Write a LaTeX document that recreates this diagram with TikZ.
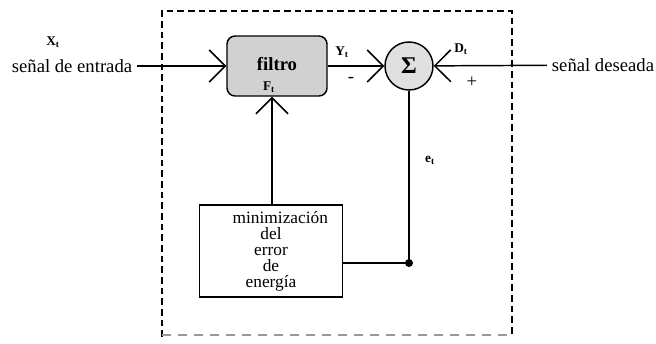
\documentclass[tikz,border=0pt]{standalone}
\usepackage{fontspec}
\setmainfont{Liberation Serif}
\usetikzlibrary{arrows.meta, positioning}

\begin{document}
\begin{tikzpicture}[
x=0.75pt, y=-0.75pt,
>={Straight Barb[length=12pt, width=24pt, line width=1.1pt]},
line width=1.1pt,
every node/.style={font=\fontsize{14}{16}\selectfont},
bloque/.style={draw, line width=1.1pt, rounded corners=6pt, fill=black!18,
  minimum width=75pt, minimum height=45pt},
sumador/.style={draw, circle, line width=1.1pt, fill=black!12, minimum size=36pt, inner sep=0pt},
caja/.style={draw, line width=1.1pt, minimum width=107pt, minimum height=69pt,
  align=center, font=\fontsize{13}{12}\selectfont},
etiq/.style={font=\fontsize{10}{12}\selectfont\bfseries}
]
\useasboundingbox (0,0) rectangle (656,343);

% marco punteado
\draw[dashed, line width=0.8pt, dash pattern=on 5pt off 3pt] (162,337) -- (162,11) -- (512,11) -- (512,335);
\draw[dashed, line width=0.8pt, black!40, dash pattern=on 7pt off 5pt] (162,335) -- (512,335);

% bloques
\node[bloque] (filtro) at (277,66) {};
\node[font=\fontsize{14}{16}\selectfont\bfseries] (ftxt) at (277,64) {filtro};
\node[etiq] (ft) at (269,87) {F\textsubscript{t}};
\node[sumador] (suma) at (409,66) {\fontsize{18}{18}\selectfont\bfseries Σ};
\node[caja] (minim) at (271,251) {\hspace*{14pt}minimización\\del\\error\\de\\energía};

% senales
\node (entrada) at (72,66) {señal de entrada};
\node[etiq] (xt) at (53,42) {X\textsubscript{t}};
\node (deseada) at (603,65) {señal deseada};
\node[etiq] (yt) at (342,52) {Y\textsubscript{t}};
\node (menos) at (351,80) {-};
\node[etiq] (dt) at (461,49) {D\textsubscript{t}};
\node (mas) at (472,82) {+};
\node[etiq] (et) at (430,160) {e\textsubscript{t}};

\coordinate (punto) at (409,263);
\coordinate (eje) at (272,0);

\draw[->] (entrada) -- (filtro);
\draw[->] (filtro) -- (suma);
\draw[->] (deseada) -- (suma);
\draw[->] (minim.north -| eje) -- (filtro.south -| eje);
\draw (suma) -- (punto) -- (minim.east |- punto);
\fill (punto) circle (4);

\end{tikzpicture}
\end{document}
